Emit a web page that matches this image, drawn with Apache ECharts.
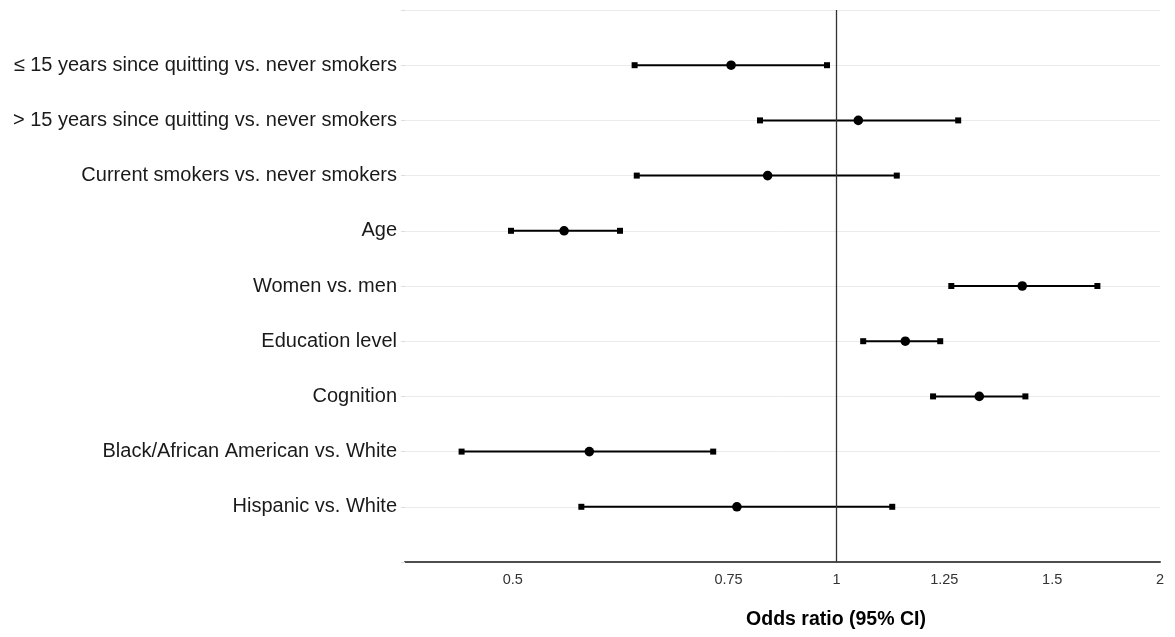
<!DOCTYPE html>
<html>
<head>
<meta charset="utf-8">
<script src="https://cdn.jsdelivr.net/npm/echarts@6/dist/echarts.min.js"></script>
<style>
  html, body { margin: 0; padding: 0; background: #fff; }
  #chart { width: 1175px; height: 637px; }
</style>
</head>
<body>
<div id="chart"></div>
<script>
// rows, top to bottom
const categories = [
  '≤ 15 years since quitting vs. never smokers',
  '> 15 years since quitting vs. never smokers',
  'Current smokers vs. never smokers',
  'Age',
  'Women vs. men',
  'Education level',
  'Cognition',
  'Black/African American vs. White',
  'Hispanic vs. White'
];
// odds ratio and 95% CI bounds
const oddsRatio = [0.798, 1.048, 0.863, 0.558, 1.489, 1.159, 1.358, 0.589, 0.808];
const ciLower   = [0.649, 0.849, 0.652, 0.498, 1.279, 1.059, 1.230, 0.448, 0.579];
const ciUpper   = [0.980, 1.298, 1.138, 0.629, 1.749, 1.249, 1.499, 0.768, 1.127];

// x axis ticks (log scale, breaks at powers of 2^(1/3)) and their printed labels
const tickValues = [0.5, 0.7937, 1, 1.2599, 1.5874, 2];
const tickLabels = ['0.5', '0.75', '1', '1.25', '1.5', '2'];

const chart = echarts.init(document.getElementById('chart'));

const yData = [' '].concat(categories, ['  ']);
const seriesData = categories.map((c, i) => [oddsRatio[i], c, ciLower[i], ciUpper[i]]);

const option = {
  animation: false,
  backgroundColor: '#ffffff',
  grid: { left: 405, right: 15, top: 10, bottom: 75 },
  xAxis: {
    type: 'log',
    logBase: Math.pow(2, 1 / 3),
    min: Math.pow(2, -4 / 3),
    max: 2,
    axisLine: { show: true, lineStyle: { color: '#4d4d4d', width: 2 } },
    axisTick: { show: false },
    splitLine: { show: false },
    axisLabel: {
      margin: 10,
      fontFamily: 'Liberation Sans, Arial, sans-serif',
      fontSize: 14.5,
      color: '#333333',
      formatter: function (v) {
        for (let i = 0; i < tickValues.length; i++) {
          if (Math.abs(Math.log(v / tickValues[i])) < 0.01) return tickLabels[i];
        }
        return '';
      }
    }
  },
  yAxis: {
    type: 'category',
    data: yData,
    inverse: true,
    boundaryGap: false,
    axisLine: { show: false },
    axisTick: { show: true, length: 4, lineStyle: { color: '#dddddd' } },
    splitLine: { show: true, lineStyle: { color: '#ebebeb', width: 1 } },
    axisLabel: {
      margin: 8,
      fontFamily: 'Liberation Sans, Arial, sans-serif',
      fontSize: 20,
      color: '#1a1a1a',
      interval: 0
    }
  },
  graphic: [{
    type: 'text',
    x: 836,
    y: 620,
    style: {
      text: 'Odds ratio (95% CI)',
      fontFamily: 'Liberation Sans, Arial, sans-serif',
      fontSize: 19.5,
      fontWeight: 'bold',
      fill: '#000',
      textAlign: 'center',
      textVerticalAlign: 'middle'
    }
  }],
  series: [{
    type: 'custom',
    encode: { x: 0, y: 1 },
    data: seriesData,
    renderItem: function (params, api) {
      const y = api.value(1);
      const pEst = api.coord([api.value(0), y]);
      const pLo = api.coord([api.value(2), y]);
      const pHi = api.coord([api.value(3), y]);
      const sq = 6;
      return {
        type: 'group',
        children: [
          { type: 'line', shape: { x1: pLo[0], y1: pLo[1], x2: pHi[0], y2: pHi[1] },
            style: { stroke: '#000', lineWidth: 2 } },
          { type: 'rect', shape: { x: pLo[0] - sq / 2, y: pLo[1] - sq / 2, width: sq, height: sq },
            style: { fill: '#000' } },
          { type: 'rect', shape: { x: pHi[0] - sq / 2, y: pHi[1] - sq / 2, width: sq, height: sq },
            style: { fill: '#000' } },
          { type: 'circle', shape: { cx: pEst[0], cy: pEst[1], r: 4.8 },
            style: { fill: '#000' } }
        ]
      };
    },
    markLine: {
      silent: true,
      symbol: 'none',
      label: { show: false },
      lineStyle: { color: '#333333', width: 1.3, type: 'solid' },
      data: [{ xAxis: 1 }]
    }
  }]
};

chart.setOption(option);
</script>
</body>
</html>
